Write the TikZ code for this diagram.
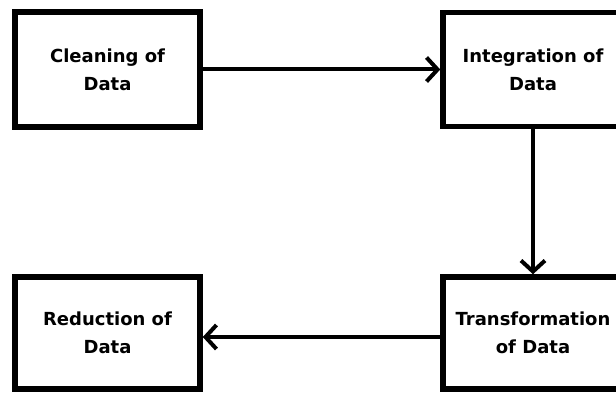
\documentclass[tikz,border=0pt]{standalone}
\usepackage{fontspec}
\setmainfont{DejaVu Sans}
\usetikzlibrary{arrows.meta}
\begin{document}
\begin{tikzpicture}[x=1pt,y=1pt,
  stagebox/.style={draw=black,line width=5.5pt,fill=white,align=center,
    font=\fontsize{18}{28}\selectfont\bfseries,inner sep=0pt},
  flow/.style={line width=4pt,-{Straight Barb[length=11pt,width=24pt,line width=4pt]}}]
\useasboundingbox (0,0) rectangle (616,394);
\clip (0,0) rectangle (616,394);
\node[stagebox,minimum width=185pt,minimum height=115pt] (clean) at (107.5,324.5) {Cleaning of\\Data};
\node[stagebox,minimum width=180pt,minimum height=114pt] (integ) at (533,324.5) {Integration of\\Data};
\node[stagebox,minimum width=180pt,minimum height=112pt] (trans) at (533,61) {Transformation\\of Data};
\node[stagebox,minimum width=185pt,minimum height=112pt] (reduc) at (107.5,61) {Reduction of\\Data};
\draw[flow] (clean.east) -- (integ.west);
\draw[flow] (integ.south) -- (trans.north);
\draw[flow] ([yshift=-4pt]trans.west) -- ([yshift=-4pt]reduc.east);
\end{tikzpicture}
\end{document}
